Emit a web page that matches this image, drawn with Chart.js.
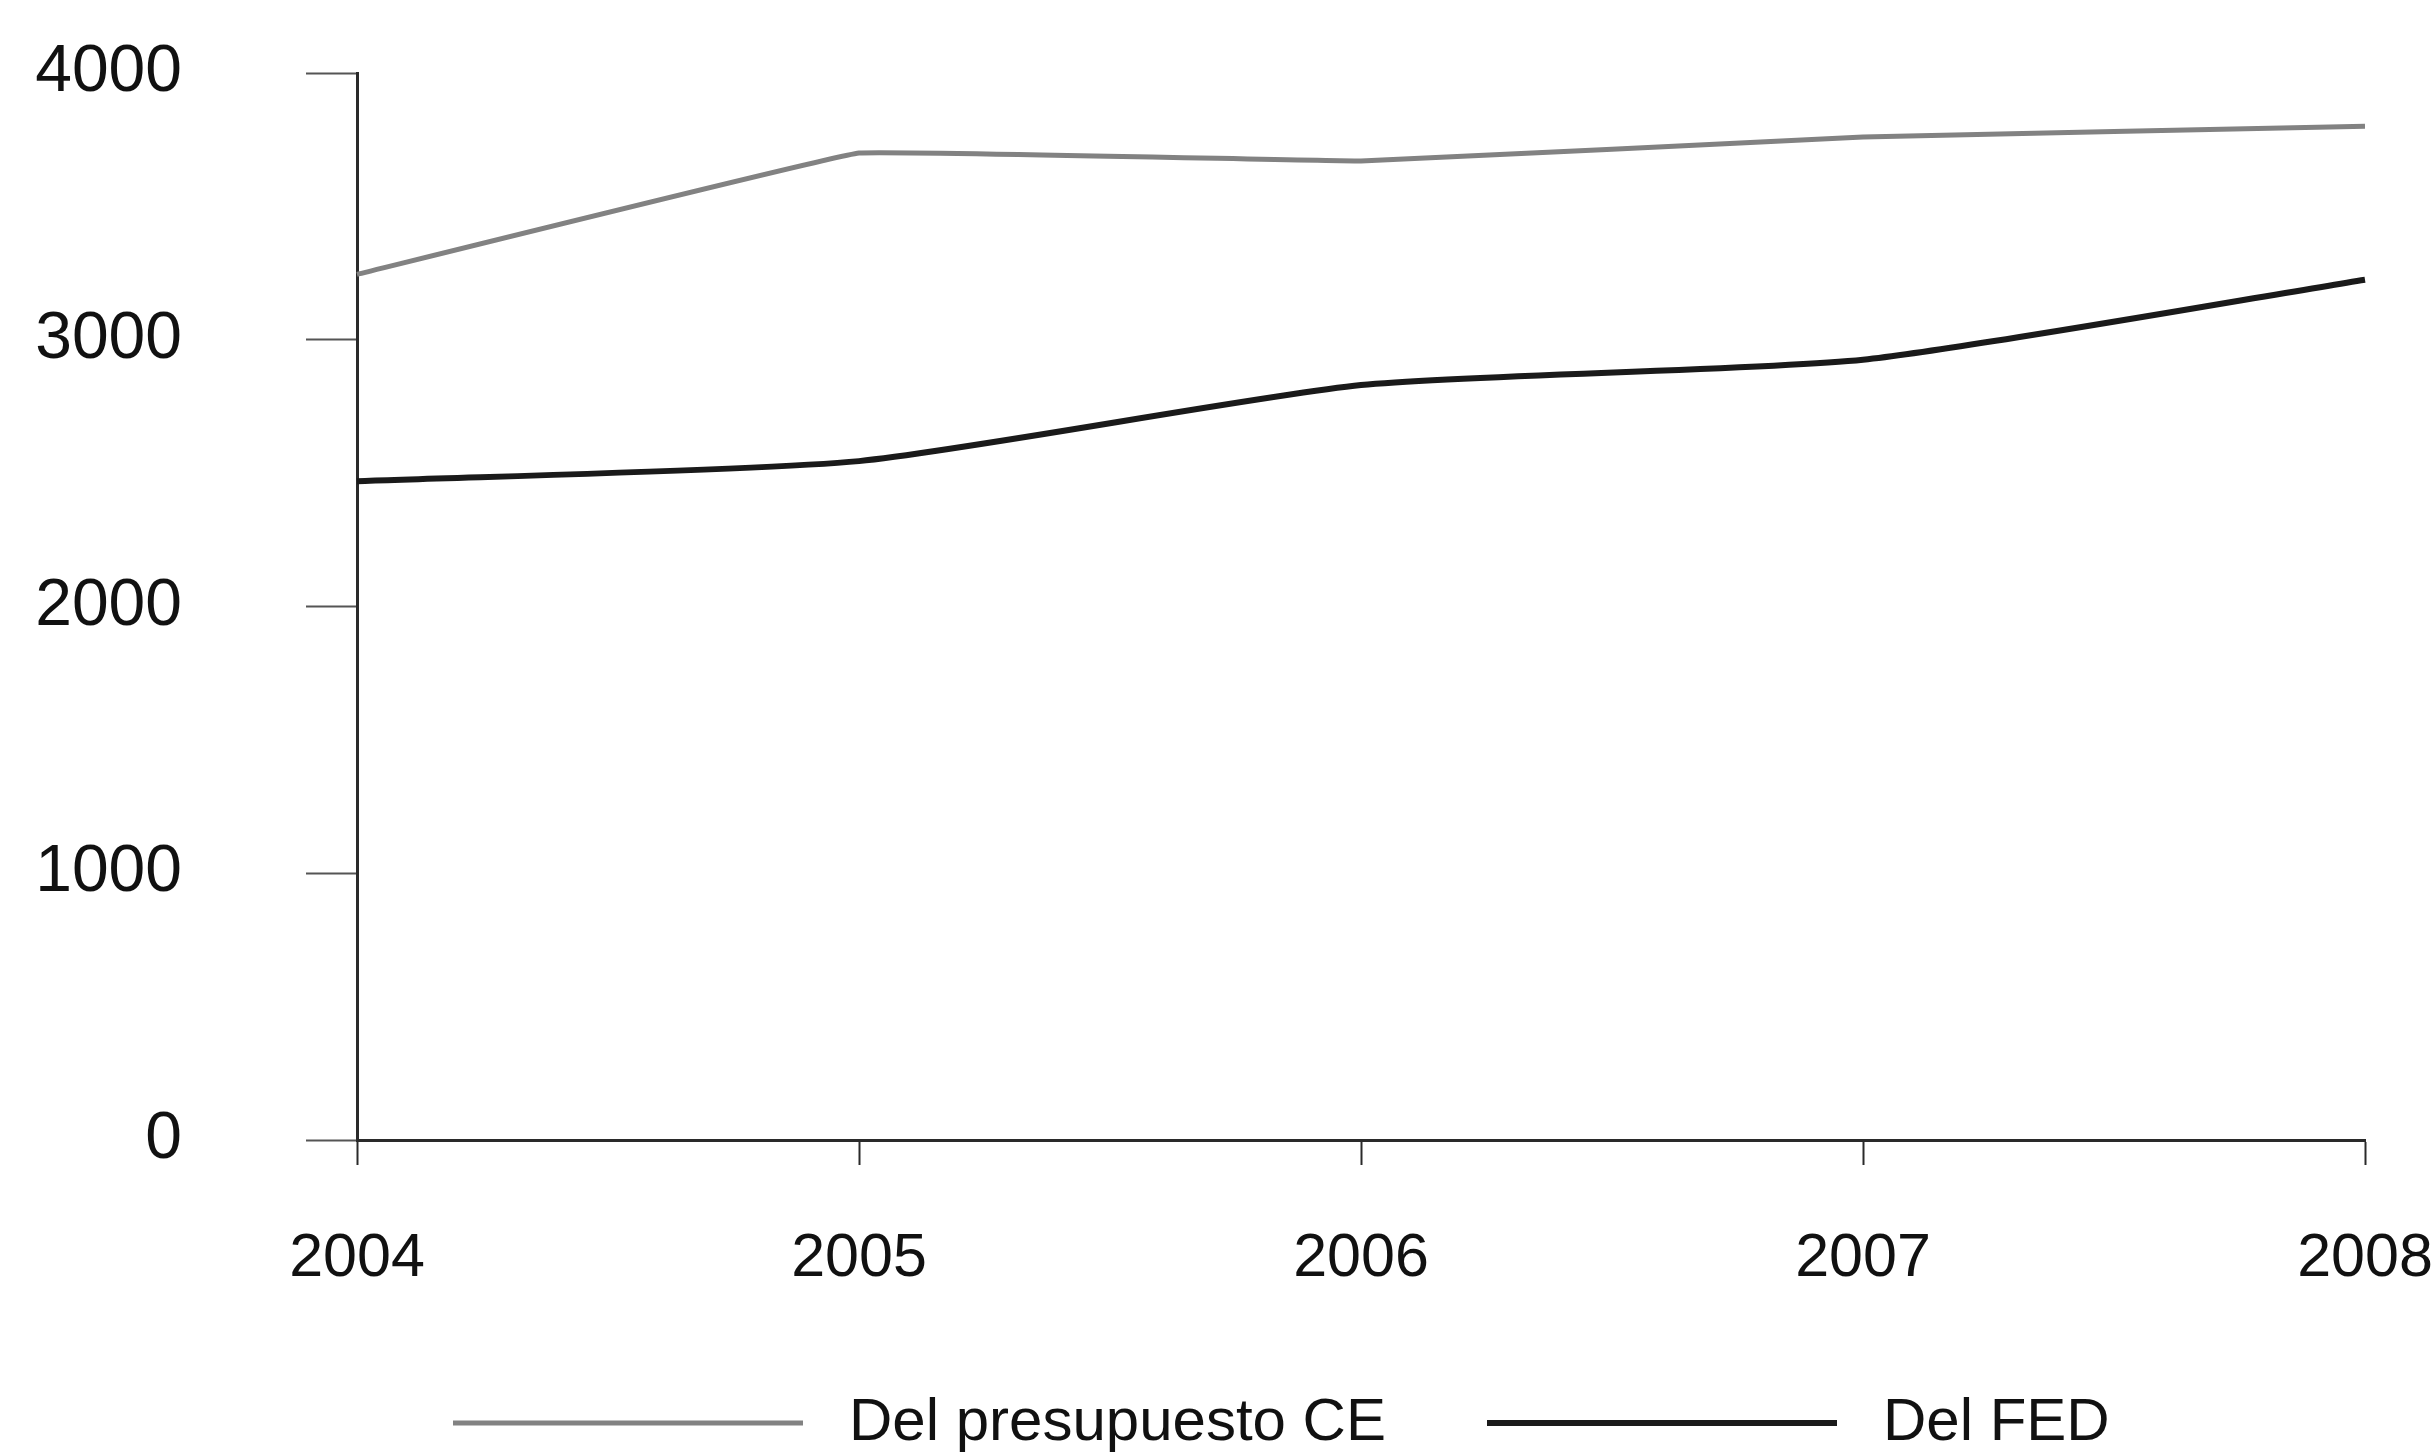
<!DOCTYPE html>
<html>
<head>
<meta charset="utf-8">
<script src="https://cdn.jsdelivr.net/npm/chart.js@4.4.1/dist/chart.umd.min.js"></script>
<style>
  html, body { margin: 0; padding: 0; background: #fff; }
  #wrap { width: 2433px; height: 1455px; }
</style>
</head>
<body>
<div id="wrap"><canvas id="fondosChart" width="2433" height="1455"></canvas></div>
<script>
// Data
const years = ['2004', '2005', '2006', '2007', '2008'];
const presupuestoCE = [3245, 3700, 3670, 3760, 3800];
const fondoFED = [2470, 2545, 2830, 2925, 3225];
const yTicks = [0, 1000, 2000, 3000, 4000];
const seriesNames = ['Del presupuesto CE', 'Del FED'];

// Legend drawn under the plot: a line sample followed by the series name
const lineLegend = {
    id: 'lineLegend',
    afterDraw(chart, args, opts) {
        const ctx = chart.ctx;
        ctx.save();
        ctx.font = opts.font;
        ctx.fillStyle = opts.color;
        ctx.textBaseline = 'middle';
        ctx.textAlign = 'left';
        chart.data.datasets.forEach((ds, i) => {
            const item = opts.items[i];
            ctx.strokeStyle = ds.borderColor;
            ctx.lineWidth = ds.borderWidth;
            ctx.beginPath();
            ctx.moveTo(item.x, opts.y);
            ctx.lineTo(item.x + opts.lineLength, opts.y);
            ctx.stroke();
            ctx.fillText(ds.label, item.x + opts.lineLength + opts.gap, opts.y);
        });
        ctx.restore();
    }
};

document.addEventListener('DOMContentLoaded', () => {
    const ctx = document.getElementById('fondosChart').getContext('2d');
    Chart.defaults.font.family = '"Liberation Sans", Arial, Helvetica, sans-serif';
    Chart.defaults.color = '#111';

    new Chart(ctx, {
        type: 'line',
        data: {
          labels: years,
          datasets: [
            {
              label: seriesNames[0],
              data: presupuestoCE,
              borderColor: '#828282',
              backgroundColor: '#828282',
              borderWidth: 5,
              pointRadius: 0,
              tension: 0.05,
              fill: false
            },
            {
              label: seriesNames[1],
              data: fondoFED,
              borderColor: '#1a1a1a',
              backgroundColor: '#1a1a1a',
              borderWidth: 6,
              pointRadius: 0,
              tension: 0.2,
              fill: false
            }
          ]
        },
        plugins: [lineLegend],
        options: {
          responsive: false,
          animation: false,
          layout: {
            padding: { top: 73, left: 0, right: 68, bottom: 155 }
          },
          plugins: {
            tooltip: { enabled: false },
            legend: { display: false },
            lineLegend: {
              y: 1423,
              lineLength: 350,
              gap: 46,
              items: [{ x: 453 }, { x: 1487 }],
              font: '60px "Liberation Sans", Arial, sans-serif',
              color: '#111'
            }
          },
          scales: {
            x: {
              offset: false,
              afterFit: scale => {
                scale.height = 160;
                scale.paddingLeft = 0;
                scale.paddingRight = 0;
              },
              border: { display: true, color: '#2a2a2a', width: 3 },
              grid: {
                display: true,
                drawOnChartArea: false,
                tickLength: 25,
                tickColor: '#2a2a2a',
                tickWidth: 2
              },
              ticks: {
                font: { size: 61 },
                color: '#111',
                padding: 58,
                maxRotation: 0,
                autoSkip: false
              }
            },
            y: {
              min: 0,
              max: 4000,
              afterFit: scale => {
                scale.width = 357;
                scale.paddingTop = 0;
                scale.paddingBottom = 0;
              },
              afterBuildTicks: scale => { scale.ticks = yTicks.map(v => ({ value: v })); },
              border: { display: true, color: '#2a2a2a', width: 3 },
              grid: {
                display: true,
                drawOnChartArea: false,
                tickLength: 51,
                tickColor: '#555',
                tickWidth: 2
              },
              ticks: {
                font: { size: 66 },
                color: '#111',
                padding: 124,
                callback: value => String(value)
              }
            }
          }
        }
    });
});
</script>
</body>
</html>
